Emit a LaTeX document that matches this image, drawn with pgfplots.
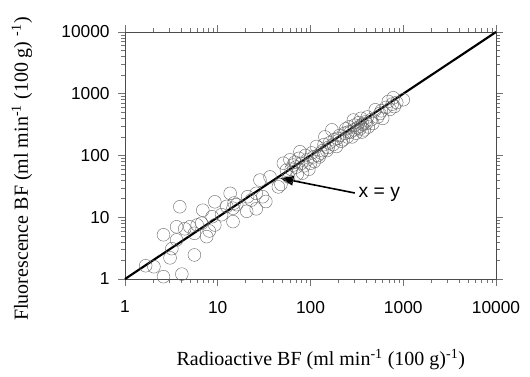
\documentclass[border=0pt]{standalone}
\usepackage{pgfplots}
\pgfplotsset{compat=1.18}
\usepackage{fontspec}
\setmainfont{Liberation Serif}
\newfontfamily\tickfont{Liberation Sans}
\usetikzlibrary{arrows.meta}
\begin{document}
\begin{tikzpicture}
\useasboundingbox (-93.75pt,-73.5pt) rectangle (303.75pt,209.25pt);
\begin{axis}[
  at={(0,0)}, anchor=south west,
  scale only axis, width=278.25pt, height=185.25pt,
  xmode=log, ymode=log,
  xmin=1, xmax=10000, ymin=1, ymax=10000,
  xtick={1,10,100,1000,10000}, xticklabels={1,10,100,1000,10000},
  ytick={1,10,100,1000,10000}, yticklabels={1,10,100,1000,10000},
  minor xtick={2,3,4,5,6,7,8,9,20,30,40,50,60,70,80,90,200,300,400,500,600,700,800,900,2000,3000,4000,5000,6000,7000,8000,9000},
  minor ytick={2,3,4,5,6,7,8,9,20,30,40,50,60,70,80,90,200,300,400,500,600,700,800,900,2000,3000,4000,5000,6000,7000,8000,9000},
  tick align=outside,
  major tick length=5pt, minor tick length=3pt,
  every tick/.style={black!55, line width=0.4pt},
  axis line style={black!70, line width=0.6pt},
  xticklabel style={font=\tickfont\fontsize{13}{15}\selectfont, yshift=-8pt},
  yticklabel style={font=\tickfont\fontsize{13}{15}\selectfont, xshift=-3pt},
  xlabel={Radioactive BF (ml min\textsuperscript{-1} (100 g)\textsuperscript{-1})},
  ylabel={Fluorescence BF (ml min\textsuperscript{-1} (100 g) \textsuperscript{-1})},
  label style={font=\fontsize{15}{18}\selectfont},
  xlabel style={at={(axis description cs:0.528,-0.328)}, anchor=center},
  ylabel style={at={(axis description cs:-0.278,0.445)}, anchor=center, rotate=0},
  clip=false,
]
\addplot[only marks, mark=o, mark size=4.8pt, mark options={draw=black!60, line width=0.3pt}] table {
x y
1.67 1.64
2.05 1.58
2.6 1.09
2.6 5.2
3.06 2.2
3.2 3.1
3.6 4.3
3.6 7.0
3.9 14.8
4.1 1.2
4.4 6.5
5.0 7.0
5.6 2.45
5.6 5.5
6.0 7.5
6.7 8.0
6.9 13
7.6 4.85
8.1 6.0
8.7 10.2
9.3 7.5
9.3 17.8
11 11
12.5 15
13.6 24.4
14.6 8.5
14.6 14
15 17
16 16
20.5 12.5
21 21.5
23 19
26 24.4
26 13.7
28.5 40
30.5 21.5
33 18
36.6 45
45 31
48 34
51 75
55 58
58 45
60 85
62 60
65 70
68 78
70 65
72 50
75 90
77 115
80 75
82 52
85 68
88 100
92 85
96 60
100 75
103 110
108 95
110 80
116 140
120 100
124 95
130 110
135 120
140 150
143 200
150 120
155 135
160 160
170 260
175 150
180 180
190 140
195 190
205 210
215 170
225 180
235 230
240 270
250 200
255 240
260 290
270 240
280 200
290 375
295 260
300 310
310 230
320 280
330 340
340 270
345 300
350 400
360 240
365 320
380 260
390 350
400 330
410 420
420 290
450 380
470 330
500 550
530 420
560 480
580 530
600 400
650 600
690 750
720 560
760 680
780 860
800 620
850 720
1000 800
};
\addplot[black, line width=1.6pt] coordinates {(1,1) (10000,10000)};
\draw[-{Triangle[length=10pt,width=7pt]}, line width=1.2pt] (axis cs:300,24.7) -- (axis cs:47,43);
\node[anchor=west, inner sep=1pt, font=\tickfont\fontsize{14.5}{16}\selectfont] at (axis cs:318,23.5) {x = y};
\end{axis}
\end{tikzpicture}
\end{document}
